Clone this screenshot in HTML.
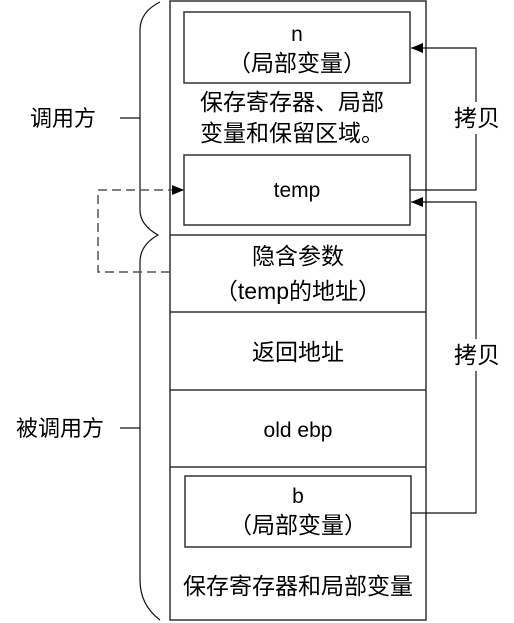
<!DOCTYPE html>
<html><head><meta charset="utf-8"><style>
html,body{margin:0;padding:0;background:#fff;width:514px;height:623px;overflow:hidden}
text{font-family:"Liberation Sans","Noto Sans CJK SC",sans-serif;fill:#000}
</style></head><body>
<svg width="514" height="623" viewBox="0 0 514 623" xmlns="http://www.w3.org/2000/svg">
<defs><marker id="a" markerWidth="12" markerHeight="10" refX="12" refY="5" orient="auto" markerUnits="userSpaceOnUse"><path d="M0,0 L12,5 L0,10 Z" fill="#000"/></marker></defs>
<g fill="none" stroke="#333" stroke-width="1.5">
<rect x="170" y="1" width="256" height="619"/>
<line x1="170" y1="235" x2="426" y2="235"/>
<line x1="170" y1="312" x2="426" y2="312"/>
<line x1="170" y1="390" x2="426" y2="390"/>
<line x1="170" y1="467" x2="426" y2="467"/>
<rect x="184" y="12" width="226" height="71"/>
<rect x="184" y="155" width="226" height="70"/>
<rect x="185" y="476" width="226" height="71"/>
</g>
<g fill="none" stroke="#111" stroke-width="1.2">
<path d="M160,2 Q140,12 140,30 L140,210 Q140,225 158,235 Q140,245 140,262 L140,580 Q140,605 160,620"/>
<line x1="120" y1="118" x2="140" y2="118"/>
<line x1="120" y1="428" x2="140" y2="428"/>
<polyline points="410,190 476,190 476,48 411,48" marker-end="url(#a)"/>
<polyline points="411,513 476,513 476,202 411,202" marker-end="url(#a)"/>
</g>
<polyline points="170,272 98,272 98,190 184,190" fill="none" stroke="#555" stroke-width="1.5" stroke-dasharray="9,5" marker-end="url(#a)"/>
<rect x="453" y="102" width="48" height="32" fill="#fff"/>
<rect x="453" y="339" width="48" height="32" fill="#fff"/>
<g font-size="23">
<text x="477" y="126" text-anchor="middle">拷贝</text>
<text x="477" y="363" text-anchor="middle">拷贝</text>
<text x="63" y="126" text-anchor="middle" font-size="22">调用方</text>
<text x="60" y="436" text-anchor="middle" font-size="22">被调用方</text>
<text x="297" y="41" text-anchor="middle" font-size="21">n</text>
<text x="297" y="71" text-anchor="middle">（局部变量）</text>
<text x="200" y="110">保存寄存器、局部</text>
<text x="200" y="141">变量和保留区域。</text>
<text x="297" y="197" text-anchor="middle" font-size="21">temp</text>
<text x="298" y="264" text-anchor="middle">隐含参数</text>
<text x="298" y="299" text-anchor="middle">（temp的地址）</text>
<text x="298" y="360" text-anchor="middle">返回地址</text>
<text x="298" y="437" text-anchor="middle" font-size="21">old ebp</text>
<text x="298" y="503" text-anchor="middle" font-size="21">b</text>
<text x="298" y="533" text-anchor="middle">（局部变量）</text>
<text x="298" y="594" text-anchor="middle">保存寄存器和局部变量</text>
</g>
</svg>
</body></html>
